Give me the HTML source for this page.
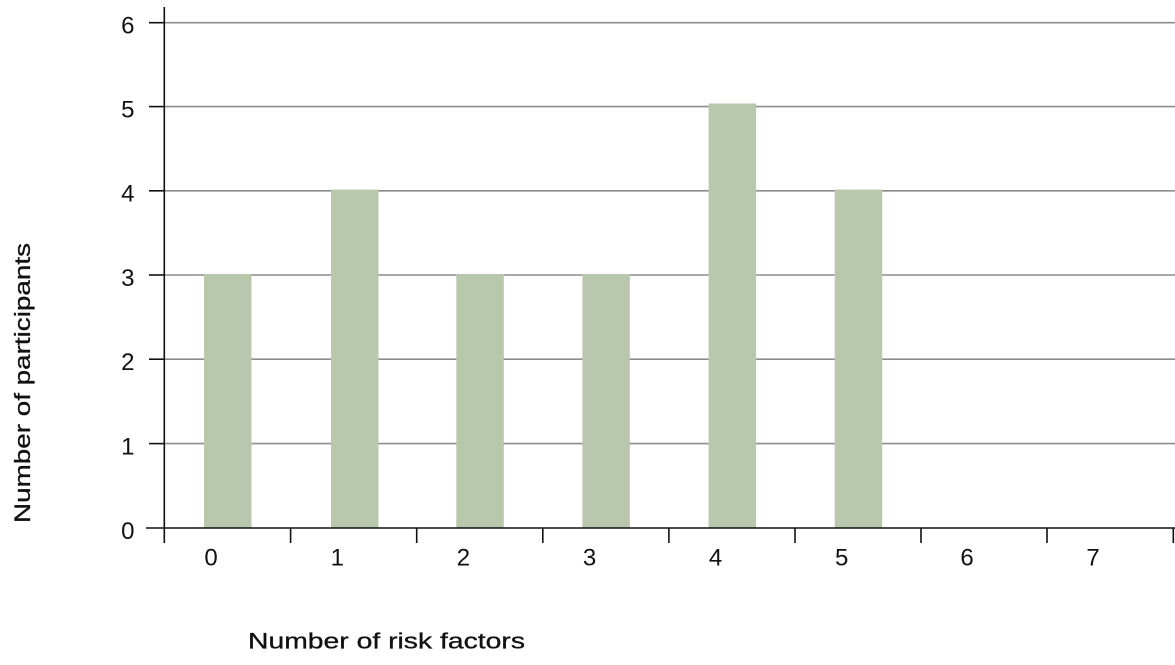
<!DOCTYPE html>
<html>
<head>
<meta charset="utf-8">
<style>
  html, body { margin: 0; padding: 0; background: #ffffff; }
  svg { display: block; }
  text { font-family: "Liberation Sans", "DejaVu Sans", sans-serif; fill: #111; }
</style>
</head>
<body>
<svg width="1175" height="665" viewBox="0 0 1175 665" xmlns="http://www.w3.org/2000/svg">
  <!-- gridlines -->
  <g stroke="#8c8c8c" stroke-width="1.6">
    <line x1="164" y1="22.7" x2="1175" y2="22.7"/>
    <line x1="164" y1="106.6" x2="1175" y2="106.6"/>
    <line x1="164" y1="190.8" x2="1175" y2="190.8"/>
    <line x1="164" y1="275" x2="1175" y2="275"/>
    <line x1="164" y1="359.2" x2="1175" y2="359.2"/>
    <line x1="164" y1="443.6" x2="1175" y2="443.6"/>
  </g>
  <!-- bars -->
  <g fill="#b9c7ad">
    <rect x="204" y="274" width="47.5" height="254"/>
    <rect x="331" y="189.6" width="47.5" height="338.4"/>
    <rect x="456.3" y="274" width="47.5" height="254"/>
    <rect x="582.4" y="274" width="47.5" height="254"/>
    <rect x="708.6" y="103.5" width="47.5" height="424.5"/>
    <rect x="834.7" y="189.6" width="47.5" height="338.4"/>
  </g>
  <!-- axes -->
  <g stroke="#111" stroke-width="1.6">
    <line x1="164.3" y1="7" x2="164.3" y2="543"/>
    <line x1="146" y1="528" x2="1175" y2="528"/>
    <!-- y ticks -->
    <line x1="149" y1="22.7" x2="164" y2="22.7"/>
    <line x1="149" y1="106.6" x2="164" y2="106.6"/>
    <line x1="149" y1="190.8" x2="164" y2="190.8"/>
    <line x1="149" y1="275" x2="164" y2="275"/>
    <line x1="149" y1="359.2" x2="164" y2="359.2"/>
    <line x1="149" y1="443.6" x2="164" y2="443.6"/>
    <!-- x ticks -->
    <line x1="290.6" y1="528" x2="290.6" y2="543"/>
    <line x1="416.7" y1="528" x2="416.7" y2="543"/>
    <line x1="542.8" y1="528" x2="542.8" y2="543"/>
    <line x1="668.9" y1="528" x2="668.9" y2="543"/>
    <line x1="795" y1="528" x2="795" y2="543"/>
    <line x1="921" y1="528" x2="921" y2="543"/>
    <line x1="1047" y1="528" x2="1047" y2="543"/>
    <line x1="1173.3" y1="528" x2="1173.3" y2="543"/>
  </g>
  <!-- y labels -->
  <g font-size="24" text-anchor="end">
    <text x="134.5" y="33.5">6</text>
    <text x="134.5" y="117.4">5</text>
    <text x="134.5" y="201.6">4</text>
    <text x="134.5" y="285.8">3</text>
    <text x="134.5" y="370">2</text>
    <text x="134.5" y="454.4">1</text>
    <text x="134.5" y="538.8">0</text>
  </g>
  <!-- x labels -->
  <g font-size="24" text-anchor="middle">
    <text x="211" y="565.3">0</text>
    <text x="337.3" y="565.3">1</text>
    <text x="463.4" y="565.3">2</text>
    <text x="589.5" y="565.3">3</text>
    <text x="715.6" y="565.3">4</text>
    <text x="841.7" y="565.3">5</text>
    <text x="967" y="565.3">6</text>
    <text x="1093" y="565.3">7</text>
  </g>
  <!-- axis titles -->
  <text x="248" y="648.5" font-size="22.5" stroke="#111" stroke-width="0.3" textLength="277" lengthAdjust="spacingAndGlyphs">Number of risk factors</text>
  <text transform="translate(30,523) rotate(-90)" x="0" y="0" font-size="22.5" stroke="#111" stroke-width="0.3" textLength="280" lengthAdjust="spacingAndGlyphs">Number of participants</text>
</svg>
</body>
</html>
